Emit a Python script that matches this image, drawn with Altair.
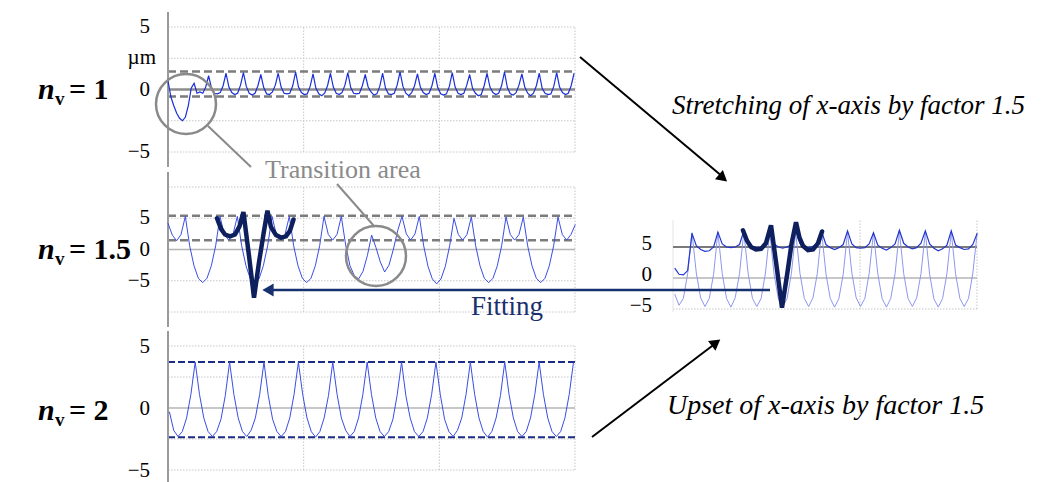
import altair as alt
import pandas as pd

SERIF = "Liberation Serif"

# ---------------- data (values in µm, x in arbitrary feed units) ----------------
# n_v = 1 measured profile, uniform sampling
P1_X0, P1_DX = 0.0, 0.02138
P1_Y = [
    0.7, -0.6, -1.3, -1.9, -2.3, -2.5, -2.2, -1.3, 0.1, 0.5, -0.3, -0.2, -0.3, 0.2,
    1.1, 0.1, -0.3, -0.35, -0.25, 0.3,
    1.3, 0.2, -0.25, -0.4, -0.3, 0.35,
    1.35, 0.25, -0.3, -0.45, -0.3, 0.3,
    1.2, 0.15, -0.35, -0.4, -0.2, 0.35,
    1.3, 0.2, -0.3, -0.35, -0.3, 0.3,
    1.4, 0.2, -0.25, -0.4, -0.35, 0.25,
    1.25, 0.1, -0.35, -0.5, -0.3, 0.3,
    1.3, 0.2, -0.3, -0.4, -0.25, 0.35,
    1.35, 0.15, -0.3, -0.35, -0.3, 0.3,
    1.2, 0.2, -0.2, -0.45, -0.35, 0.25,
    1.3, 0.1, -0.35, -0.4, -0.3, 0.35,
    1.4, 0.25, -0.3, -0.5, -0.25, 0.3,
    1.25, 0.2, -0.25, -0.4, -0.3, 0.3,
    1.3, 0.15, -0.35, -0.45, -0.35, 0.25,
    1.35, 0.2, -0.3, -0.4, -0.3, 0.35,
    1.2, 0.1, -0.3, -0.5, -0.4, 0.3,
    1.3, 0.2, -0.25, -0.4, -0.3, 0.3,
    1.4, 0.15, -0.35, -0.45, -0.25, 0.35,
    1.25, 0.2, -0.3, -0.5, -0.3, 0.3,
    1.3, 0.1, -0.3, -0.4, -0.35, 0.25,
    1.35, 0.2, -0.25, -0.4, -0.3, 0.3,
    1.3,
]

# n_v = 1.5 measured profile
P2_X0, P2_DX = 0.0, 0.03194
P2_Y = [
    4.2, 2.3, 1.4, 2.4, 5.3, 0.6, -2.6, -4.6, -5.3, -4.6, -2.6, 0.6,
    5.3, 2.4, 1.5, 2.4, 5.3, 0.6, -2.6, -4.7, -5.5, -4.7, -2.6, 0.6,
    5.3, 2.4, 1.5, 2.4, 5.3, 0.6, -2.6, -4.6, -5.3, -4.6, -2.6, 0.6,
    5.3, 2.4, 1.5, 2.4, 5.3, 0.7, -2.6, -4.2, -4.7, -3.5, -1.0, 2.3,
    0.3, -2.0, -3.6, -2.5, 0.0, 3.0, 5.3, 2.5, 1.5, 2.5, 5.3, 0.6,
    -2.7, -4.7, -5.5, -4.7, -2.7, 0.6, 5.0, 2.4, 1.5, 2.4, 5.2, 0.6,
    -2.6, -4.6, -5.3, -4.6, -2.6, 0.6, 5.2, 2.4, 1.5, 2.4, 5.2, 0.6,
    -2.6, -4.6, -5.3, -4.6, -2.6, 0.6, 5.2, 2.4, 1.5, 2.4, 4.0,
]

# n_v = 2 measured profile
P3_X0, P3_DX = 0.0103, 0.03169
P3_Y = [
    -0.3, -1.8, -2.3, -1.9, -0.8, 1.1, 3.7, 1.1,
    -0.8, -1.9, -2.3, -1.9, -0.9, 1.0, 3.7, 1.1,
    -0.8, -1.9, -2.3, -1.8, -0.8, 1.1, 3.7, 1.0,
    -0.9, -1.9, -2.3, -1.9, -0.8, 1.1, 3.7, 1.1,
    -0.8, -1.9, -2.35, -1.9, -0.8, 1.0, 3.7, 1.1,
    -0.8, -1.8, -2.3, -1.9, -0.8, 1.1, 3.7, 1.1,
    -0.8, -1.9, -2.3, -1.9, -0.9, 1.1, 3.7, 1.0,
    -0.8, -1.9, -2.3, -1.9, -0.8, 1.1, 3.7, 1.1,
    -0.9, -1.9, -2.3, -1.8, -0.8, 1.1, 3.7, 1.1,
    -0.8, -1.9, -2.35, -1.9, -0.8, 1.0, 3.7, 1.1,
    -0.8, -1.9, -2.3, -1.9, -0.8, 1.1, 3.7, 1.1,
    -0.8, -1.9, -2.3, -1.9, -0.8, 1.1, 3.7,
]

# right panel: n_v = 1 stretched and n_v = 2 upset (x-axis x1.5)
P4_X0, P4_DX = 0.0084, 0.02125
P4_STRETCH_Y = [
    1.6, 0.6, 0.5, 1.2, 7.2, 5.2,
    4.6, 4.3, 4.4, 5.0, 7.4, 5.5,
    5.0, 4.9, 5.0, 5.4, 7.6, 5.6,
    5.1, 4.9, 5.0, 5.5, 7.5, 5.5,
    5.0, 4.8, 5.0, 5.4, 7.6, 5.6,
    5.0, 4.9, 5.1, 5.6, 7.5, 5.4,
    4.9, 4.6, 4.9, 5.4, 7.6, 5.5,
    4.9, 4.8, 4.9, 5.5, 7.3, 5.3,
    4.8, 4.5, 4.9, 5.5, 7.7, 5.6,
    5.0, 4.7, 4.9, 5.6, 7.6, 5.5,
    4.8, 4.4, 4.7, 5.3, 7.6, 5.3,
    4.9, 4.6, 4.7, 5.4, 7.2,
]
P4_UPSET_Y = [
    -2.6, -4.4, -3.3, 0.7, 7.3, 0.8,
    -3.2, -4.6, -3.3, 0.6, 7.4, 0.7,
    -3.3, -4.7, -3.2, 0.7, 7.5, 0.7,
    -3.3, -4.6, -3.3, 0.8, 7.4, 0.6,
    -3.4, -4.7, -3.3, 0.7, 7.4, 0.7,
    -3.3, -4.6, -3.2, 0.7, 7.5, 0.7,
    -3.3, -4.7, -3.3, 0.6, 7.4, 0.8,
    -3.2, -4.6, -3.3, 0.7, 7.3, 0.7,
    -3.3, -4.7, -3.3, 0.7, 7.5, 0.7,
    -3.3, -4.6, -3.2, 0.7, 7.4, 0.6,
    -3.4, -4.7, -3.3, 0.7, 7.4, 0.7,
    -3.3, -4.6, -3.3, 0.8, 7.3,
]

# fitted contour (thick), in left n_v=1.5 panel and in right panel
FIT2_X = [0.361, 0.391, 0.420, 0.457, 0.494, 0.527, 0.556, 0.597, 0.634,
          0.671, 0.704, 0.733, 0.759, 0.796, 0.833, 0.870, 0.899, 0.925]
FIT2_Y = [5.0, 3.3, 2.4, 2.1, 2.4, 3.7, 6.0, -1.0, -7.7,
          -2.0, 2.5, 6.2, 3.6, 2.3, 1.9, 2.1, 3.0, 4.8]
FIT4_X = [0.344, 0.364, 0.384, 0.408, 0.433, 0.457, 0.482, 0.509, 0.536,
          0.561, 0.583, 0.605, 0.622, 0.639, 0.664, 0.689, 0.713, 0.733]
FIT4_Y = [7.7, 6.0, 5.0, 4.6, 4.7, 5.6, 8.5, 2.0, -4.8,
          0.5, 5.5, 9.0, 6.5, 5.2, 4.5, 4.6, 5.6, 7.5]

# band limits (dashed)
P1_BANDS = [1.45, -0.55]
P2_BANDS = [5.4, 1.5]
P3_BANDS = [3.7, -2.35]

TICK_VALUES = [5, 0, -5]
TICK_TEXT = ["5", "0", "\u22125"]
LEFT_XGRID = [1, 2, 3]
ROW_LABELS = ["= 1", "= 1.5", "= 2"]

# ---------------- layout: scale domains -> pixel ranges ----------------
LEFT_X = ([0, 3], [168, 575])
RIGHT_X = ([0, 1.5], [673, 978])
PANEL = {
    1: (LEFT_X, ([-5, 5], [152, 27])),
    2: (LEFT_X, ([-10, 10], [312, 187])),
    3: (LEFT_X, ([-5, 5], [470, 346])),
    4: (RIGHT_X, ([-5, 10], [309, 216])),
}

BLUE1 = "#1a2fd8"
BLUE = "#3a4de4"
LIGHT_BLUE = "#8e97ee"
STRETCH_BLUE = "#2236cf"
NAVY = "#0e1f5e"
ARROW_NAVY = "#17306f"
DASH_GRAY = "#7c7c7c"
GRID = "#c6c6c6"
ANN_GRAY = "#8a8a8a"

ONE = pd.DataFrame({"k": [0]})
layers = []


def sc(spec):
    return alt.Scale(domain=spec[0], range=spec[1], nice=False, zero=False)


def X(p, f="x"):
    return alt.X(f"{f}:Q", scale=sc(PANEL[p][0]), axis=None)


def Y(p, f="y"):
    return alt.Y(f"{f}:Q", scale=sc(PANEL[p][1]), axis=None)


def series(x0, dx, ys):
    return pd.DataFrame({"x": [x0 + i * dx for i in range(len(ys))], "y": ys})


def add_line(p, df, color, width, cap="butt", join="miter"):
    layers.append(
        alt.Chart(df)
        .mark_line(color=color, strokeWidth=width, strokeCap=cap, strokeJoin=join)
        .encode(x=X(p), y=Y(p))
    )


def add_hrules(p, ys, x1, x2, color, width, dash=None):
    df = pd.DataFrame({"y": ys, "x1": [x1] * len(ys), "x2": [x2] * len(ys)})
    kw = dict(color=color, strokeWidth=width)
    if dash:
        kw["strokeDash"] = dash
    layers.append(alt.Chart(df).mark_rule(**kw).encode(x=X(p, "x1"), x2="x2:Q", y=Y(p)))


def add_vrules(p, xs, y1, y2, color, width, dash=None):
    df = pd.DataFrame({"x": xs, "y1": [y1] * len(xs), "y2": [y2] * len(xs)})
    kw = dict(color=color, strokeWidth=width)
    if dash:
        kw["strokeDash"] = dash
    layers.append(alt.Chart(df).mark_rule(**kw).encode(x=X(p), y=Y(p, "y1"), y2="y2:Q"))


def add_ticks(p, x_right, dy=0):
    df = pd.DataFrame({"y": TICK_VALUES, "t": TICK_TEXT})
    layers.append(
        alt.Chart(df)
        .mark_text(align="right", baseline="middle", font=SERIF, fontSize=21, dy=dy, color="black")
        .encode(x=alt.value(x_right), y=Y(p), text="t:N")
    )


def ann_text(text, x, y, size, align="left", color="black", style="normal", weight="normal"):
    layers.append(
        alt.Chart(ONE)
        .mark_text(text=text, font=SERIF, fontSize=size, align=align, baseline="alphabetic",
                   color=color, fontStyle=style, fontWeight=weight)
        .encode(x=alt.value(x), y=alt.value(y))
    )


def ann_line(x1, y1, x2, y2, color, width):
    layers.append(
        alt.Chart(ONE)
        .mark_rule(color=color, strokeWidth=width)
        .encode(x=alt.value(x1), y=alt.value(y1), x2=alt.value(x2), y2=alt.value(y2))
    )


def ann_head(x, y, shape, angle, color, size=150):
    layers.append(
        alt.Chart(ONE)
        .mark_point(shape=shape, angle=angle, filled=True, color=color, size=size, opacity=1)
        .encode(x=alt.value(x), y=alt.value(y))
    )


def ann_circle(x, y, r, color, width):
    layers.append(
        alt.Chart(ONE)
        .mark_point(shape="circle", filled=False, color=color, size=(2 * r) ** 2,
                    strokeWidth=width, opacity=1)
        .encode(x=alt.value(x), y=alt.value(y))
    )


DOT = [1.5, 1.5]

# ---------------- panel 1 : n_v = 1 ----------------
add_hrules(1, [5, 2.5, -2.5, -5], 0, 3, GRID, 1, DOT)
add_vrules(1, LEFT_XGRID, -5, 5, GRID, 1, DOT)
add_hrules(1, [0], 0, 3, "#8c8c8c", 2.5)
add_hrules(1, P1_BANDS, 0, 3, DASH_GRAY, 2.5, [8, 4])
add_vrules(1, [0], -6.2, 6.2, "#9a9a9a", 2)
add_line(1, series(P1_X0, P1_DX, P1_Y), BLUE1, 1.2)
add_ticks(1, 150)
layers.append(
    alt.Chart(pd.DataFrame({"y": [2.5], "t": ["\u00b5m"]}))
    .mark_text(align="right", baseline="middle", font=SERIF, fontSize=21, color="black")
    .encode(x=alt.value(156), y=Y(1), text="t:N")
)

# ---------------- panel 2 : n_v = 1.5 ----------------
add_hrules(2, [10, 5, -5, -10], 0, 3, GRID, 1, DOT)
add_vrules(2, LEFT_XGRID, -10, 10, GRID, 1, DOT)
add_hrules(2, [0], 0, 3, "#b4b4b4", 1.5)
add_hrules(2, P2_BANDS, 0, 3, DASH_GRAY, 2.5, [8, 4])
add_vrules(2, [0], -12.4, 12.4, "#9a9a9a", 2)
add_line(2, series(P2_X0, P2_DX, P2_Y), BLUE, 1)
add_line(2, pd.DataFrame({"x": FIT2_X, "y": FIT2_Y}), NAVY, 4.5, cap="round")
add_ticks(2, 150)

# ---------------- panel 3 : n_v = 2 ----------------
add_hrules(3, [5, 2.5, -2.5, -5], 0, 3, GRID, 1, DOT)
add_vrules(3, LEFT_XGRID, -5, 5, GRID, 1, DOT)
add_hrules(3, [0], 0, 3, "#b4b4b4", 1.5)
add_hrules(3, P3_BANDS, 0, 3, "#1b2c86", 2, [7, 3])
add_vrules(3, [0], -6.2, 6.2, "#9a9a9a", 2)
add_line(3, series(P3_X0, P3_DX, P3_Y), BLUE, 1)
add_ticks(3, 150, dy=1)

# ---------------- panel 4 : stretched / upset comparison ----------------
add_hrules(4, [-5], 0, 1.495, GRID, 1, DOT)
add_vrules(4, [0.92, 1.495], -5, 9.3, GRID, 1, DOT)
add_vrules(4, [0], -5.5, 9.3, "#e4e4e4", 1)
add_hrules(4, [0], 0, 1.495, "#b4b4b4", 1.5)
add_hrules(4, [5], 0, 1.495, "#7a7a7a", 2)
add_line(4, series(P4_X0, P4_DX, P4_UPSET_Y), LIGHT_BLUE, 1)
add_line(4, series(P4_X0, P4_DX, P4_STRETCH_Y), STRETCH_BLUE, 1.2)
add_line(4, pd.DataFrame({"x": FIT4_X, "y": FIT4_Y}), NAVY, 4.5, cap="round")
add_ticks(4, 652, dy=-3)

# ---------------- annotations ----------------
# row labels n_v = ...
for base, txt in zip([99, 259, 420], ROW_LABELS):
    ann_text("n", 38, base, 30, style="italic", weight="bold")
    ann_text("v", 55, base + 6, 19, weight="bold")
    ann_text(txt, 69, base, 30, weight="bold")

# transition area circles + callouts
ann_circle(186, 104, 30, ANN_GRAY, 2.5)
ann_circle(376, 256, 30, ANN_GRAY, 2.5)
ann_line(208, 126, 251, 167, ANN_GRAY, 2)
ann_line(337, 184, 374, 226, ANN_GRAY, 2)
ann_text("Transition area", 265, 178, 26, color=ANN_GRAY)

# fitting arrow
ann_line(770, 290, 270, 290, ARROW_NAVY, 2.5)
ann_head(268, 290, "triangle-left", 0, ARROW_NAVY, 170)
ann_text("Fitting", 471, 315, 27, color="#1b2f6e")

# black arrows
ann_line(580, 57, 723, 177, "black", 2)
ann_head(723, 178, "triangle-right", 40, "black", 150)
ann_line(592, 437, 716, 343, "black", 2)
ann_head(716, 342.6, "triangle-right", 323, "black", 150)

ann_text("Stretching of x-axis by factor 1.5", 672, 114, 27, style="italic")
ann_text("Upset of x-axis by factor 1.5", 667, 414, 28, style="italic")

chart = (
    alt.layer(*layers)
    .resolve_scale(x="independent", y="independent")
    .properties(width=1045, height=482, padding=0,
                autosize=alt.AutoSizeParams(type="none"))
    .configure_view(stroke=None)
)

chart.save("out.html", embed_options={"renderer": "svg", "actions": False})
